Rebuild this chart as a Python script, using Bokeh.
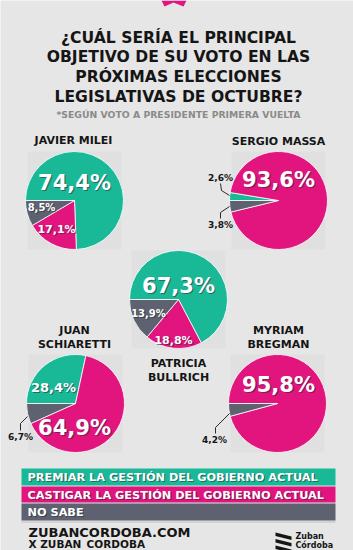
from bokeh.plotting import figure
from bokeh.models import Range1d
from bokeh.embed import file_html
from bokeh.resources import INLINE
from bokeh.core.properties import value
import math

# ---- data ----
candidates = ["JAVIER MILEI", "SERGIO MASSA", "PATRICIA BULLRICH", "JUAN SCHIARETTI", "MYRIAM BREGMAN"]
premiar = [74.4, 2.6, 67.3, 28.4, 0.0]
castigar = [17.1, 93.6, 18.8, 64.9, 95.8]
no_sabe = [8.5, 3.8, 13.9, 6.7, 4.2]
legend_labels = ["PREMIAR LA GESTIÓN DEL GOBIERNO ACTUAL",
                 "CASTIGAR LA GESTIÓN DEL GOBIERNO ACTUAL",
                 "NO SABE"]
title_lines = ["¿CUÁL SERÍA EL PRINCIPAL", "OBJETIVO DE SU VOTO EN LAS",
               "PRÓXIMAS ELECCIONES", "LEGISLATIVAS DE OCTUBRE?"]
subtitle = "*SEGÚN VOTO A PRESIDENTE PRIMERA VUELTA"

GREEN = "#19B998"
PINK = "#E2147E"
GRAY = "#5D6170"
BG = "#E6E6E6"
DARK = "#151515"
FONT = value("DejaVu Sans")

W, H = 353, 550
p = figure(width=W, height=H, output_backend="svg", toolbar_location=None,
           x_range=Range1d(0, W), y_range=Range1d(0, H), min_border=0)
p.axis.visible = False
p.grid.visible = False
p.outline_line_color = None
p.background_fill_color = BG
p.border_fill_color = BG

def Y(y):
    return H - y

def txt(x, y, s, size, color=DARK, align="center", style="bold", shadow=False):
    if shadow:
        p.text([x + 1.2], [Y(y) - 1.4], text=[s], text_font=FONT, text_font_size=f"{size}px",
               text_font_style=style, text_color="#2a2a2a", text_alpha=0.55,
               text_align=align, text_baseline="middle")
    p.text([x], [Y(y)], text=[s], text_font=FONT, text_font_size=f"{size}px",
           text_font_style=style, text_color=color, text_align=align, text_baseline="middle")

# top logo fragment
p.patch([161, 186, 183, 173, 164], [Y(0), Y(0), Y(6), Y(2), Y(6)], color=PINK, line_color=None)

# title
for i, line in enumerate(title_lines):
    txt(178, 37 + i * 19.7, line, 15.6)
txt(178, 114, subtitle, 9.3, color="#8a8a8a")

# pie layout
centers = [(74, 200), (278, 200), (178, 299), (75, 403), (277, 403)]
R = 49

# faint squares behind pies
for (cx, cy) in centers:
    p.rect([cx], [Y(cy)], width=2 * R - 4, height=2 * R, color="#D6D6D6", alpha=0.4, line_color=None)

for i, (cx, cy) in enumerate(centers):
    vals = [premiar[i], castigar[i], no_sabe[i]]
    cols = [GREEN, PINK, GRAY]
    tot = sum(vals)
    cum = 0.0
    for v, c in zip(vals, cols):
        if v <= 0:
            continue
        sa = math.pi - 2 * math.pi * cum / tot
        ea = math.pi - 2 * math.pi * (cum + v) / tot
        p.wedge([cx], [Y(cy)], radius=R, start_angle=sa, end_angle=ea, direction="clock",
                fill_color=c, line_color="white", line_width=0.8)
        cum += v

def pct(v):
    return f"{v:.1f}".replace(".", ",") + "%"

# candidate names
NS = 11
txt(73, 140, "JAVIER MILEI", NS)
txt(278, 141, "SERGIO MASSA", NS)
txt(178, 363, "PATRICIA", NS)
txt(178, 377, "BULLRICH", NS)
txt(74, 330, "JUAN", NS)
txt(74, 344, "SCHIARETTI", NS)
txt(278, 330, "MYRIAM", NS)
txt(278, 344, "BREGMAN", NS)

# Milei labels
txt(74, 182, pct(premiar[0]), 21, "white", shadow=True)
txt(41, 207, pct(no_sabe[0]), 10, "white", shadow=True)
txt(56, 229, pct(castigar[0]), 11, "white", shadow=True)
# Massa labels
txt(278, 179, pct(castigar[1]), 21, "white", shadow=True)
txt(220, 177, pct(premiar[1]), 9, DARK)
txt(220, 224, pct(no_sabe[1]), 9, DARK)
p.line([220, 221, 229], [Y(183), Y(190), Y(195)], line_color=DARK, line_width=0.9)
p.line([220, 220, 229], [Y(218), Y(212), Y(206)], line_color=DARK, line_width=0.9)
# Bullrich labels
txt(178, 285, pct(premiar[2]), 21, "white", shadow=True)
txt(148, 313, pct(no_sabe[2]), 10, "white", shadow=True)
txt(173, 340, pct(castigar[2]), 11, "white", shadow=True)
# Schiaretti labels
txt(53, 387, pct(premiar[3]), 13, "white", shadow=True)
txt(74, 427, pct(castigar[3]), 21, "white", shadow=True)
txt(20, 436, pct(no_sabe[3]), 9, DARK)
p.line([20, 20, 27], [Y(430), Y(423), Y(416)], line_color=DARK, line_width=0.9)
# Bregman labels
txt(278, 384, pct(castigar[4]), 21, "white", shadow=True)
txt(214, 439, pct(no_sabe[4]), 9, DARK)
p.line([215, 215, 229], [Y(433), Y(427), Y(413)], line_color=DARK, line_width=0.9)

# legend bars
bars = [(468, 485, GREEN), (486, 502, PINK), (503, 520, GRAY)]
for (t, b, c), lab in zip(bars, legend_labels):
    p.quad(left=[21], right=[335], top=[Y(t)], bottom=[Y(b)], color=c, line_color=None)
    txt(27, (t + b) / 2 + 0.5, lab, 11.3, "white", align="left", shadow=True)
p.line([21, 335], [Y(521.5), Y(521.5)], line_color="#bdbdbd", line_width=1.2)

# footer
txt(28, 532, "ZUBANCORDOBA.COM", 13, DARK, align="left")
txt(28, 543.5, "X ZUBAN_CORDOBA", 10.5, DARK, align="left")
for k in range(3):
    y0 = 532 + k * 6.5
    p.patch([275, 291, 291, 275], [Y(y0), Y(y0 + 4), Y(y0 + 7.5), Y(y0 + 3.5)], color=DARK, line_color=None)
txt(295, 536, "Zuban", 8, DARK, align="left")
txt(295, 545, "Córdoba", 8, DARK, align="left")

open("out.html", "w").write(file_html(p, INLINE))
